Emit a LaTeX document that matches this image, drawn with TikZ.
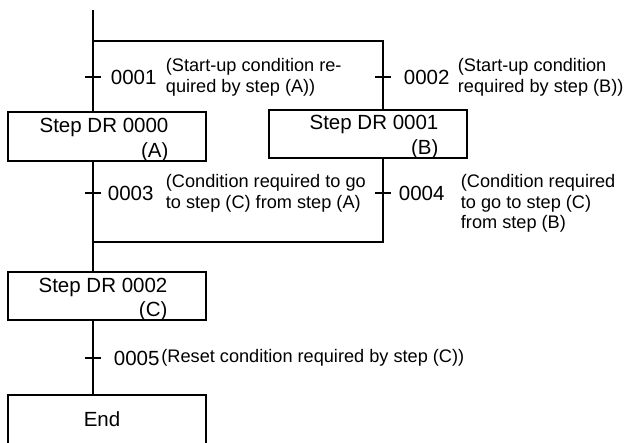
\documentclass[tikz,border=0pt]{standalone}
\usepackage{fontspec}
\setmainfont{Liberation Sans}
\usetikzlibrary{positioning}
\begin{document}
\begin{tikzpicture}[x=0.03cm,y=-0.03cm,
			line width=1.6pt,
			stepbox/.style={draw,line width=1.6pt,minimum width=5.94cm,minimum height=1.46cm,inner sep=0pt},
			steptext/.style={inner sep=0pt,align=right,font=\fontsize{17.5}{21}\selectfont},
			addr/.style={anchor=west,inner sep=0pt,font=\fontsize{17.5}{21}\selectfont},
			cond/.style={anchor=west,inner sep=0pt,align=left,font=\fontsize{15.5}{17.5}\selectfont},
			declare function={
				lineL = 93;
				lineR = 383;
				lineTop = 10;
				forkY = 41;
				joinY = 242;
				tickW = 8;
				condL = 165;
			}
			]
			\clip (0,0) rectangle (626,442);
			\node[stepbox] (stepA) at (107,136.5) {};
			\node[stepbox] (stepB) at (368,134) {};
			\node[stepbox] (stepC) at (107,296) {};
			\node[stepbox,minimum height=1.5cm] (stepEnd) at (107,420) {};
			\node[steptext] (textA) at ([shift={(-3,3.5)}]stepA.center) {Step DR 0000\\(A)};
			\node[steptext] (textB) at ([shift={(6,3)}]stepB.center) {Step DR 0001\\(B)};
			\node[steptext] (textC) at ([shift={(-4,3.5)}]stepC.center) {Step DR 0002\\(C)};
			\node[steptext] (textEnd) at ([shift={(-5,-1)}]stepEnd.center) {End};
			\coordinate (top) at (lineL,lineTop);
			\coordinate (forkL) at (lineL,forkY);
			\coordinate (forkR) at (lineR,forkY);
			\coordinate (joinL) at (lineL,joinY);
			\coordinate (joinR) at (lineR,joinY);
			\draw (top) -- (stepA.north -| top);
			\draw (forkL) -- (forkR) -- (stepB.north -| forkR);
			\draw (stepA.south -| top) -- (stepC.north -| top);
			\draw (stepB.south -| forkR) -- (joinR) -- (joinL);
			\draw (stepC.south -| top) -- (stepEnd.north -| top);
			\foreach \x/\y in {lineL/77,lineR/77,lineL/193,lineR/193,lineL/358}{
				\draw (\x-tickW,\y) -- (\x+tickW,\y);
			}
			\node[addr] (no0001) at (110,77) {0001};
			\node[cond] (condA) at (condL,77.5) {(Start-up condition re-\\quired by step (A))};
			\node[addr] (no0002) at (403,77) {0002};
			\node[cond] (condB) at (457,77.5) {(Start-up condition\\required by step (B))};
			\node[addr] (no0003) at (107,193) {0003};
			\node[cond] (condAC) at (condL,193.5) {(Condition required to go\\to step (C) from step (A)};
			\node[addr] (no0004) at (398,193) {0004};
			\node[cond] (condBC) at (460,203.5) {(Condition required\\to go to step (C)\\from step (B)};
			\node[addr] (no0005) at (113,358) {0005};
			\node[cond,right=0pt of no0005] (condC) {(Reset condition required by step (C))};
		\end{tikzpicture}
\end{document}
